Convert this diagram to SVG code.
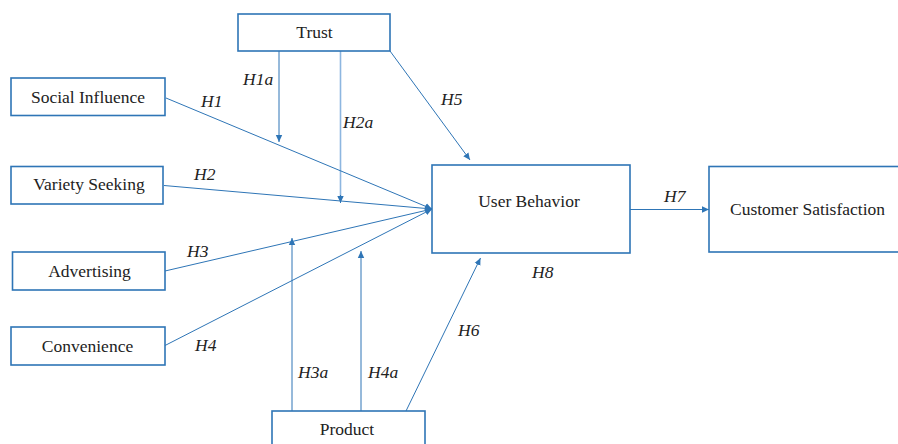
<svg xmlns="http://www.w3.org/2000/svg" width="898" height="444" viewBox="0 0 898 444">
<style>
.box{fill:#fff;stroke:#2e75b6;stroke-width:1.6}
text{font-family:'Liberation Serif','DejaVu Serif',serif;font-size:17.5px;fill:#222}
.t{text-anchor:middle}
.h{font-style:italic}
.c{fill:none;stroke:#2e75b6;stroke-width:1}
.c2{fill:none;stroke:#8db6e0;stroke-width:1.6}
</style>
<defs>
<marker id="a" markerUnits="userSpaceOnUse" markerWidth="8" markerHeight="8" viewBox="0 0 8 8" refX="7" refY="4" orient="auto">
<path d="M0,0.8 L7,4 L0,7.2 Z" fill="#2e75b6"/>
</marker>
</defs>
<rect width="898" height="444" fill="#fff"/>
<g id="connectors">
<line class="c" x1="279" y1="51" x2="279" y2="142" marker-end="url(#a)"/>
<line class="c2" x1="340.5" y1="51" x2="340.5" y2="200"/>
<line class="c" x1="340.5" y1="195" x2="340.5" y2="203" marker-end="url(#a)"/>
<line class="c" x1="390" y1="51" x2="470" y2="160" marker-end="url(#a)"/>
<line class="c" x1="166" y1="98" x2="432" y2="209" marker-end="url(#a)"/>
<line class="c" x1="164" y1="185.5" x2="432" y2="209" marker-end="url(#a)"/>
<line class="c" x1="165" y1="271" x2="432" y2="209" marker-end="url(#a)"/>
<line class="c" x1="165" y1="345.5" x2="432" y2="209" marker-end="url(#a)"/>
<line class="c" x1="292" y1="411" x2="292" y2="238" marker-end="url(#a)"/>
<line class="c" x1="361" y1="411" x2="361" y2="251" marker-end="url(#a)"/>
<line class="c" x1="406" y1="411" x2="480.5" y2="258" marker-end="url(#a)"/>
<line class="c" x1="630" y1="209.5" x2="709" y2="209.5" marker-end="url(#a)"/>
<text class="h" x="243" y="85">H1a</text>
<text class="h" x="343" y="128">H2a</text>
<text class="h" x="441" y="105">H5</text>
<text class="h" x="201" y="107">H1</text>
<text class="h" x="194" y="180">H2</text>
<text class="h" x="187" y="257">H3</text>
<text class="h" x="195" y="351">H4</text>
<text class="h" x="298" y="378">H3a</text>
<text class="h" x="368" y="378">H4a</text>
<text class="h" x="458" y="336">H6</text>
<text class="h" x="664" y="202">H7</text>
<text class="h" x="532" y="278">H8</text>
</g>
<g id="trust"><rect class="box" x="238" y="14" width="152" height="37"/><text class="t" x="314.5" y="37.7">Trust</text></g>
<g id="social-influence"><rect class="box" x="11" y="78" width="154" height="37.5"/><text class="t" x="88" y="102.7">Social Influence</text></g>
<g id="variety-seeking"><rect class="box" x="11" y="166.5" width="152" height="37.5"/><text class="t" x="89" y="190">Variety Seeking</text></g>
<g id="advertising"><rect class="box" x="12.5" y="252" width="152.5" height="38"/><text class="t" x="89.5" y="276.7">Advertising</text></g>
<g id="convenience"><rect class="box" x="11" y="327" width="154" height="38"/><text class="t" x="87.5" y="351.7">Convenience</text></g>
<g id="product"><rect class="box" x="272" y="411" width="153" height="45"/><text class="t" x="347" y="435">Product</text></g>
<g id="user-behavior"><rect class="box" x="432" y="165" width="198" height="88"/><text class="t" x="529" y="206.5">User Behavior</text></g>
<g id="customer-satisfaction"><rect class="box" x="709" y="166.5" width="200" height="85.5"/><text class="t" x="807.5" y="215">Customer Satisfaction</text></g>
</svg>
